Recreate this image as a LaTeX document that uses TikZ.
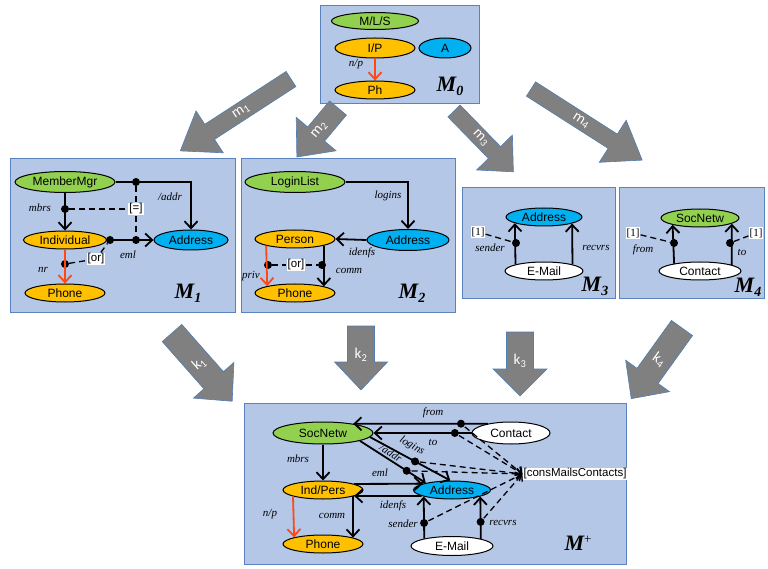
\documentclass[tikz,border=0pt]{standalone}
\usepackage{fontspec}
\setmainfont{Liberation Serif}
\setsansfont{Liberation Sans}
\newfontfamily\carlito{Carlito}
\usetikzlibrary{shapes.geometric,arrows.meta}
\definecolor{boxfill}{RGB}{180,199,231}
\definecolor{boxline}{RGB}{90,130,190}
\definecolor{egreen}{RGB}{146,208,80}
\definecolor{eorange}{RGB}{255,192,0}
\definecolor{eblue}{RGB}{0,176,240}
\definecolor{ered}{RGB}{255,72,20}
\definecolor{bagray}{RGB}{128,128,128}
\definecolor{baline}{RGB}{80,125,180}
\tikzset{
  mbox/.style={draw=boxline, fill=boxfill, line width=0.8pt},
  ent/.style 2 args={ellipse, draw=black, line width=1pt, inner sep=0pt,
    minimum width=#1, minimum height=#2, font=\sffamily\fontsize{12}{12}\selectfont},
  lab/.style={inner sep=0.5pt, font=\rmfamily\itshape\fontsize{11}{11}\selectfont},
  mlab/.style={inner sep=0pt, font=\rmfamily\bfseries\itshape\fontsize{22}{22}\selectfont},
  tag/.style={fill=white, inner sep=1pt, font=\sffamily\fontsize{11.5}{11.5}\selectfont},
  tagr/.style={fill=white, inner sep=1pt, font=\rmfamily\fontsize{11}{11}\selectfont},
  dot/.style={circle, fill=black, inner sep=0pt, minimum size=8pt},
  con/.style={draw=black, line width=1.8pt, -{Straight Barb[length=7pt,width=13pt]}},
  rcon/.style={con, draw=ered},
  dl/.style={draw=black, line width=1.3pt, dash pattern=on 6pt off 4pt},
  dla/.style={dl, -{Straight Barb[length=5pt,width=10pt]}},
  batext/.style={text=white, inner sep=0pt, font=\carlito\fontsize{15}{15}\selectfont},
}
\newcommand\blockarr[9]{%
  \begin{scope}[shift={#1}, rotate=#2]
    \filldraw[fill=bagray, draw=baline, line width=0.6pt]
      (0,#4/2) -- ({#3-#6},#4/2) -- ({#3-#6},#5/2) -- (#3,0) --
      ({#3-#6},-#5/2) -- ({#3-#6},-#4/2) -- (0,-#4/2) -- cycle;
    \node[batext, rotate=#8] (#9) at ({#3*0.45},0) {#7};
  \end{scope}}
\begin{document}
\begin{tikzpicture}[x=1pt,y=-1pt]
\useasboundingbox (0,0) rectangle (768,569);
% ---------- boxes
\draw[mbox] (320,5) rectangle (479,103);
\draw[mbox] (10,158) rectangle (235,312);
\draw[mbox] (241,158) rectangle (455,312);
\draw[mbox] (462,187) rectangle (615,298);
\draw[mbox] (619,187) rectangle (764,298);
\draw[mbox] (244,403) rectangle (626,564);

% ---------- M0
\node[ent={87pt}{17pt}, fill=egreen] (mls) at (375,21) {M/L/S};
\node[ent={80pt}{20pt}, fill=eorange] (ip) at (375,48) {I/P};
\node[ent={52pt}{20pt}, fill=eblue] (a0) at (445,48) {A};
\node[ent={80pt}{18pt}, fill=eorange] (ph) at (375,90) {Ph};
\draw[rcon] (ip.south) -- (ph.north);
\node[lab] (np0) at (356,64) {n/p};
\node[mlab] (m0) at (450,86) {M\raisebox{-4pt}{\fontsize{14}{14}\selectfont 0}};

% ---------- M1
\node[ent={100pt}{21pt}, fill=egreen] (mm) at (65,182) {MemberMgr};
\node[ent={83pt}{18pt}, fill=eorange] (ind) at (65,240) {Individual};
\node[ent={74pt}{20pt}, fill=eblue] (a1) at (191,240) {Address};
\node[ent={80pt}{18pt}, fill=eorange] (ph1) at (65,293) {Phone};
\node[dot] (d1a) at (136,182) {};
\node[dot] (d1b) at (65,209) {};
\node[dot] (d1c) at (110,240) {};
\node[dot] (d1d) at (136,240) {};
\node[dot] (d1e) at (65,264) {};
\node[tag] (eq1) at (136,209) {[=]};
\node[tag] (or1) at (96,259) {[or]};
\draw[con] (mm.east) -| (a1.north);
\draw[con] (mm.south) -- (ind.north);
\draw[con] (ind.east) -- (a1.west);
\draw[rcon] (ind.south) -- (ph1.north);
\draw[dl] (d1b) -- (eq1);
\draw[dl] (d1a) -- (eq1);
\draw[dl] (eq1) -- (d1d);
\draw[dl] (d1e) -- (or1);
\draw[dl] (or1) -- (d1c);
\node[lab] (l1a) at (40,208) {mbrs};
\node[lab] (l1b) at (170,197) {/addr};
\node[lab] (l1c) at (128,255) {eml};
\node[lab] (l1d) at (43,270) {nr};
\node[mlab] (m1) at (188,293) {M\raisebox{-4pt}{\fontsize{14}{14}\selectfont 1}};

% ---------- M2
\node[ent={100pt}{21pt}, fill=egreen] (ll) at (295,182) {LoginList};
\node[ent={82pt}{21pt}, fill=eblue] (a2) at (408,240) {Address};
\node[ent={80pt}{18pt}, fill=eorange] (per) at (295,239) {Person};
\node[ent={80pt}{18pt}, fill=eorange] (ph2) at (295,293) {Phone};
\node[dot] (d2a) at (268,265) {};
\node[dot] (d2b) at (322,265) {};
\node[tag] (or2) at (296,265) {[or]};
\draw[con] (ll.east) -| (a2.north);
\draw[con] (a2.west) -- (per.east);
\draw[rcon] (per.193.7) -- (ph2.166.3);
\draw[con] (per.-13.7) -- (ph2.13.7);
\draw[dl] (d2a) -- (or2);
\draw[dl] (or2) -- (d2b);
\node[lab] (l2a) at (388,196) {logins};
\node[lab] (l2b) at (362,253) {idenfs};
\node[lab] (l2c) at (251,276) {priv};
\node[lab] (l2d) at (349,271) {comm};
\node[mlab] (m2) at (412,293) {M\raisebox{-4pt}{\fontsize{14}{14}\selectfont 2}};

% ---------- M3
\node[ent={76pt}{18pt}, fill=eblue] (a3) at (544,217) {Address};
\node[ent={78pt}{18pt}, fill=white] (em3) at (544,271) {E-Mail};
\node[dot] (d3a) at (516,243) {};
\node[tagr] (o3) at (478,232) {[1]};
\draw[con] (em3.167.3) -- (a3.192.7);
\draw[con] (em3.13.5) -- (a3.-13.5);
\draw[dl] (o3) -- (d3a);
\node[lab] (l3a) at (490,248) {sender};
\node[lab] (l3b) at (596,248) {recvrs};
\node[mlab] (m3) at (595,286) {M\raisebox{-4pt}{\fontsize{14}{14}\selectfont 3}};

% ---------- M4
\node[ent={78pt}{18pt}, fill=egreen] (s4) at (700,218) {SocNetw};
\node[ent={82pt}{18pt}, fill=white] (c4) at (700,271) {Contact};
\node[dot] (d4a) at (674,243) {};
\node[dot] (d4b) at (730,243) {};
\node[tagr] (o4a) at (633,233) {[1]};
\node[tagr] (o4b) at (756,233) {[1]};
\draw[con] (c4.164.9) -- (s4.194.5);
\draw[con] (c4.11.5) -- (s4.-10.9);
\draw[dl] (o4a) -- (d4a);
\draw[dl] (d4b) -- (o4b);
\node[lab] (l4a) at (643,250) {from};
\node[lab] (l4b) at (742,252) {to};
\node[mlab] (m4) at (748,287) {M\raisebox{-4pt}{\fontsize{14}{14}\selectfont 4}};

% ---------- M+
\node[ent={100pt}{22pt}, fill=egreen] (sp) at (323,433) {SocNetw};
\node[ent={80pt}{18pt}, fill=eorange] (ipp) at (323,490) {Ind/Pers};
\node[ent={80pt}{18pt}, fill=eorange] (php) at (323,544) {Phone};
\node[ent={77pt}{18pt}, fill=eblue] (ap) at (452,490) {Address};
\node[ent={82pt}{19pt}, fill=white] (ep) at (452,546) {E-Mail};
\node[ent={78pt}{22pt}, fill=white] (cp) at (511,433) {Contact};
\node[tag] (cmc) at (575,474) {[consMailsContacts]};
\draw[con] (cp.158) -- node[dot,pos=0.2] (dfr) {} (sp.17.4);
\draw[con] (cp.west) -- node[dot,pos=0.17] (dto) {} (sp.east);
\draw[con] (sp.-5) -- node[dot,pos=0.56] (dlg) {} (ap.100);
\draw[con] (sp.-12) -- node[dot,pos=0.71] (dad) {} (ap.165);
\draw[con] (sp.south) -- (ipp.north);
\draw[con] (ipp.11.4) -- (ap.168.2);
\draw[con] (ap.191.8) -- (ipp.-11.4);
\draw[rcon] (ipp.192.9) -- (php.167.1);
\draw[con] (ipp.-12.1) -- (php.12.1);
\draw[con] (ep.165.2) -- node[dot,pos=0.37] (dsn) {} (ap.193.3);
\draw[con] (ep.14.8) -- node[dot,pos=0.4] (drc) {} (ap.-13.3);
\draw[dla] (dfr) -- (cmc.west);
\draw[dla] (dto) -- (cmc.west);
\draw[dla] (dlg) -- (cmc.west);
\draw[dla] (dad) -- (cmc.west);
\draw[dla] (dsn) -- (cmc.west);
\draw[dla] (drc) -- (cmc.west);
\node[lab] (lpa) at (433,413) {from};
\node[lab] (lpb) at (433,442) {to};
\node[lab, rotate=-30] (lpc) at (412,446) {logins};
\node[lab, rotate=-32] (lpd) at (391,453) {/addr};
\node[lab] (lpe) at (380,473) {eml};
\node[lab] (lpf) at (393,506) {idenfs};
\node[lab] (lpg) at (298,459) {mbrs};
\node[lab] (lph) at (270,514) {n/p};
\node[lab] (lpi) at (332,516) {comm};
\node[lab] (lpj) at (403,524) {sender};
\node[lab] (lpk) at (503,523) {recvrs};
\node[mlab] (mp) at (578,543) {M\raisebox{7pt}{\fontsize{13}{13}\selectfont\mdseries\upshape +}};

% ---------- block arrows
\blockarr{(291,79)}{213}{132}{18}{50}{35}{m\textsubscript{1}}{33}{bm1}
\blockarr{(338,108)}{230}{64}{22}{52}{30}{m\textsubscript{2}}{50}{bm2}
\blockarr{(454,111)}{-45.7}{85}{17}{50}{27}{m\textsubscript{3}}{-45.7}{bm3}
\blockarr{(531,89)}{-32.6}{132}{17}{50}{35}{m\textsubscript{4}}{-32.6}{bm4}
\blockarr{(172,333)}{-48.6}{91}{26}{54}{28}{k\textsubscript{1}}{41.4}{bk1}
\blockarr{(361,326)}{-90}{64}{27}{53}{28}{k\textsubscript{2}}{0}{bk2}
\blockarr{(520,332)}{-90}{64}{27}{54}{27}{k\textsubscript{3}}{0}{bk3}
\blockarr{(682,328)}{234.3}{87}{26}{54}{28}{k\textsubscript{4}}{-35.7}{bk4}
\end{tikzpicture}
\end{document}
